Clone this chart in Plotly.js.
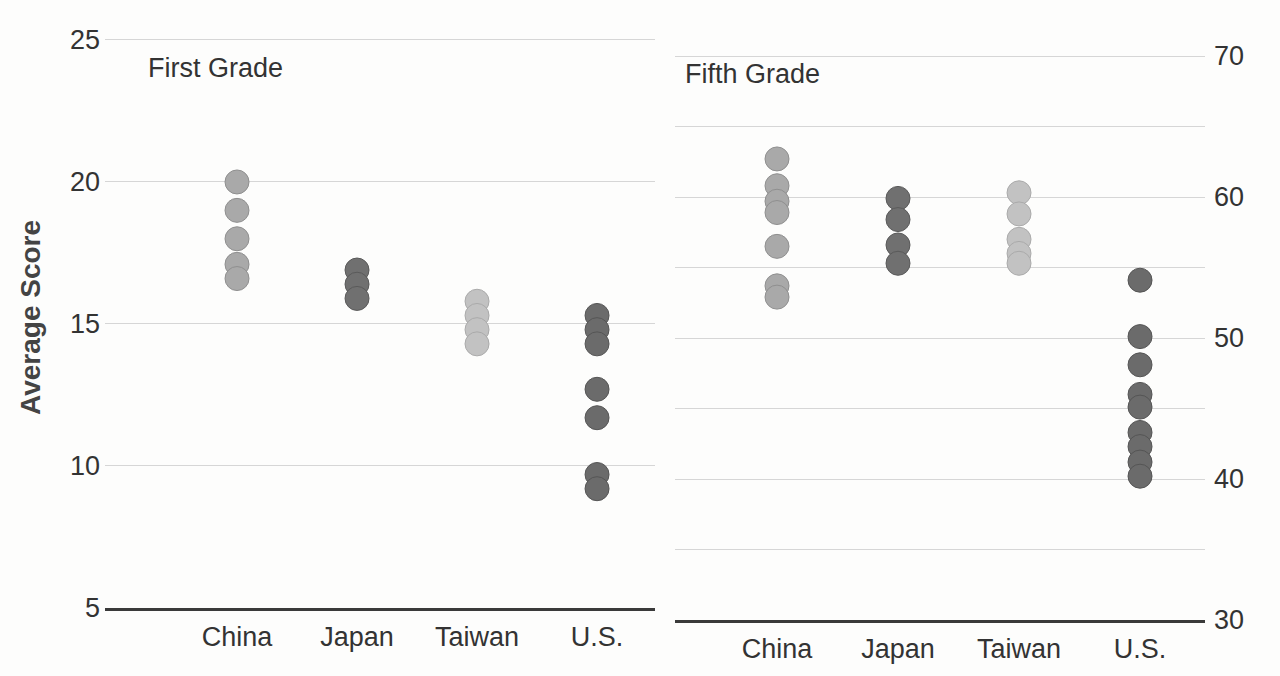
<!DOCTYPE html>
<html>
<head>
<meta charset="utf-8">
<script src="https://cdn.plot.ly/plotly-3.0.1.min.js"></script>
<style>html,body{margin:0;padding:0;background:#fdfdfc;}#chart{width:1280px;height:676px;}</style>
</head>
<body>
<div id="chart"></div>
<script>
const categories = ["China", "Japan", "Taiwan", "U.S."];
// First grade scores (left axis)
const firstChina  = [20.0, 19.0, 18.0, 17.1, 16.6];
const firstJapan  = [16.9, 16.4, 15.9];
const firstTaiwan = [15.8, 15.3, 14.8, 14.3];
const firstUS     = [15.3, 14.8, 14.3, 12.7, 11.7, 9.7, 9.2];
// Fifth grade scores (right axis)
const fifthChina  = [62.7, 60.8, 59.7, 58.9, 56.5, 53.7, 52.9];
const fifthJapan  = [59.9, 58.4, 56.6, 55.3];
const fifthTaiwan = [60.3, 58.8, 57.0, 56.0, 55.3];
const fifthUS     = [54.1, 50.1, 48.1, 46.0, 45.1, 43.3, 42.3, 41.2, 40.2];
// Tick labels
const leftTicks = [5, 10, 15, 20, 25];
const rightTickVals = [30, 35, 40, 45, 50, 55, 60, 65, 70];
const rightTickText = ["30", "", "40", "", "50", "", "60", "", "70"];

const fills = {"China": "#a9a9a9", "Japan": "#707070", "Taiwan": "#c2c2c2", "U.S.": "#6b6b6b"};
const edges = {"China": "#8f8f8f", "Japan": "#5a5a5a", "Taiwan": "#aaaaaa", "U.S.": "#555555"};

const firstData = [firstChina, firstJapan, firstTaiwan, firstUS];
const fifthData = [fifthChina, fifthJapan, fifthTaiwan, fifthUS];

const traces = [];
categories.forEach((c, i) => {
  traces.push({
    type: "scatter", mode: "markers", xaxis: "x", yaxis: "y",
    x: firstData[i].map(() => c), y: firstData[i],
    marker: {size: 24, color: fills[c], line: {color: edges[c], width: 1}},
    hoverinfo: "x+y", showlegend: false
  });
  traces.push({
    type: "scatter", mode: "markers", xaxis: "x2", yaxis: "y2",
    x: fifthData[i].map(() => c), y: fifthData[i],
    marker: {size: 24, color: fills[c], line: {color: edges[c], width: 1}},
    hoverinfo: "x+y", showlegend: false
  });
});

const FONT = "Liberation Sans, Arial, sans-serif";
const tickFont = {family: FONT, size: 27, color: "#333"};
const layout = {
  width: 1280, height: 676,
  margin: {l: 0, r: 0, t: 0, b: 0},
  paper_bgcolor: "#fdfdfc", plot_bgcolor: "rgba(0,0,0,0)",
  showlegend: false,
  xaxis: {
    domain: [105/1280, 655/1280], type: "category", categoryarray: categories,
    range: [-1.1, 3.483], showgrid: false, zeroline: false,
    showline: true, linecolor: "#3a3a3a", linewidth: 2.5,
    ticks: "", ticklabelstandoff: 3, tickfont: tickFont, automargin: false
  },
  yaxis: {
    domain: [68/676, 640.3/676], range: [5, 25.15], tickvals: leftTicks,
    showgrid: true, gridcolor: "#d6d6d6", gridwidth: 1, zeroline: false,
    showline: false, ticks: "", ticklabelstandoff: 4, tickfont: tickFont, automargin: false
  },
  xaxis2: {
    domain: [675/1280, 1205/1280], type: "category", categoryarray: categories,
    range: [-0.843, 3.537], anchor: "y2", showgrid: false, zeroline: false,
    showline: true, linecolor: "#3a3a3a", linewidth: 2.5,
    ticks: "", ticklabelstandoff: 3, tickfont: tickFont, automargin: false
  },
  yaxis2: {
    domain: [56/676, 622.8/676], range: [30, 70.2], anchor: "x2", side: "right",
    tickvals: rightTickVals, ticktext: rightTickText,
    showgrid: true, gridcolor: "#d6d6d6", gridwidth: 1, zeroline: false,
    showline: false, ticks: "", ticklabelstandoff: 8, tickfont: tickFont, automargin: false
  },
  annotations: [
    {text: "First Grade", xref: "paper", yref: "paper", x: 146/1280, y: (676-68)/676,
     xanchor: "left", yanchor: "middle", showarrow: false,
     font: {family: FONT, size: 27, color: "#333"}},
    {text: "Fifth Grade", xref: "paper", yref: "paper", x: 683/1280, y: (676-74)/676,
     xanchor: "left", yanchor: "middle", showarrow: false,
     font: {family: FONT, size: 27, color: "#333"}},
    {text: "<b>Average Score</b>", xref: "paper", yref: "paper", x: 30/1280, y: (676-318)/676,
     xanchor: "center", yanchor: "middle", textangle: -90, showarrow: false,
     font: {family: FONT, size: 28, color: "#444"}}
  ]
};

Plotly.newPlot("chart", traces, layout, {displayModeBar: false, staticPlot: true});
</script>
</body>
</html>
